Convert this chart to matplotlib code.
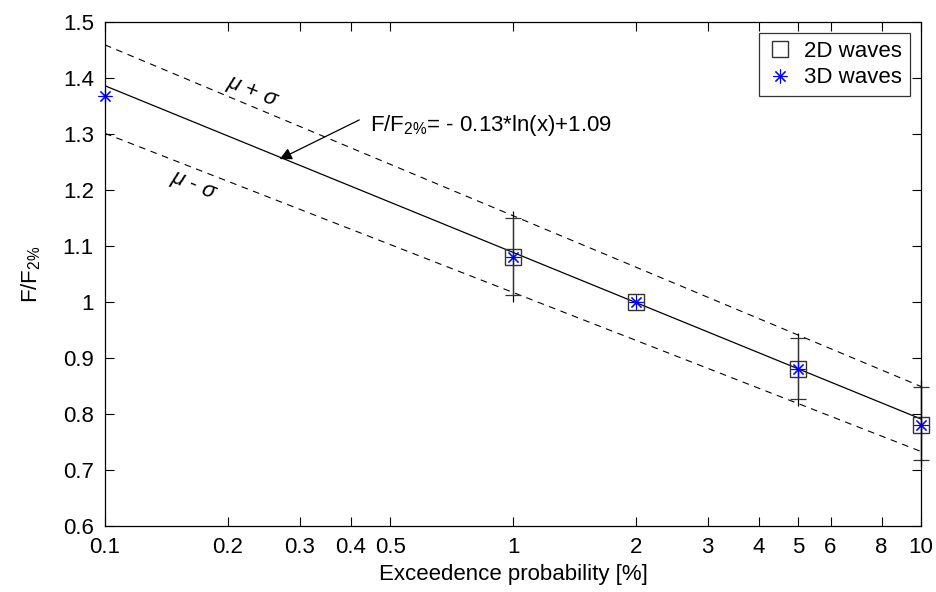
import numpy as np
import matplotlib.pyplot as plt

plt.rcParams['font.family'] = ['Liberation Sans', 'DejaVu Sans']
plt.rcParams['mathtext.fontset'] = 'custom'
plt.rcParams['mathtext.rm'] = 'Liberation Sans'
plt.rcParams['mathtext.it'] = 'Liberation Sans:italic'

# measured points
x2d = [1, 2, 5, 10]
y2d = [1.08, 1.0, 0.88, 0.78]
x3d = [0.1, 1, 2, 5, 10]
y3d = [1.368, 1.08, 1.0, 0.88, 0.78]

# error bars (two overlapping sets)
err_x = [1, 5, 10]
err_y = [1.08, 0.88, 0.78]
errA_lo = [1.0125, 0.827, 0.717]
errA_hi = [1.150, 0.935, 0.848]
errB_lo = [1.0, 0.814, 0.705]
errB_hi = [1.163, 0.945, 0.860]

# fitted line and +/- sigma bands (end points, straight on log-x)
fit_x = [0.1, 10]
fit_y = [1.386, 0.791]
upper_y = [1.459, 0.849]
lower_y = [1.301, 0.733]

xticks = [0.1, 0.2, 0.3, 0.4, 0.5, 1, 2, 3, 4, 5, 6, 8, 10]
xticklabels = ['0.1', '0.2', '0.3', '0.4', '0.5', '1', '2', '3', '4', '5', '6', '8', '10']
yticks = [0.6, 0.7, 0.8, 0.9, 1.0, 1.1, 1.2, 1.3, 1.4, 1.5]
yticklabels = ['0.6', '0.7', '0.8', '0.9', '1', '1.1', '1.2', '1.3', '1.4', '1.5']

fs = 16

fig = plt.figure(figsize=(9.37, 5.92), dpi=100)
ax = fig.add_axes([0.112, 0.1115, 0.871, 0.8515])

ax.plot(fit_x, fit_y, color='black', lw=0.9)
ax.plot(fit_x, upper_y, color='black', lw=0.8, ls=(0, (6, 5)))
ax.plot(fit_x, lower_y, color='black', lw=0.8, ls=(0, (6, 5)))

ey = np.array(err_y)
ax.errorbar(err_x, err_y, yerr=[ey - np.array(errB_lo), np.array(errB_hi) - ey],
            fmt='none', ecolor='black', elinewidth=0.9, capsize=0, clip_on=False)
ax.errorbar(err_x, err_y, yerr=[ey - np.array(errA_lo), np.array(errA_hi) - ey],
            fmt='none', ecolor='#333333', elinewidth=0.9, capsize=6, capthick=0.9,
            clip_on=False)

ax.plot(x2d, y2d, ls='none', marker='s', ms=11, mfc='none', mec='#333333', mew=1.0,
        clip_on=False, label='2D waves')
ax.plot(x3d, y3d, ls='none', marker=(8, 2, 0), ms=10, color='blue', mew=0.8,
        clip_on=False, label='3D waves')

ax.set_xscale('log')
ax.set_xlim(0.1, 10)
ax.set_ylim(0.6, 1.5)
ax.set_xticks(xticks)
ax.set_xticklabels(xticklabels)
ax.minorticks_off()
ax.set_yticks(yticks)
ax.set_yticklabels(yticklabels)
ax.tick_params(direction='in', length=6.5, width=0.8, top=True, right=True,
               labelsize=fs, pad=8)
for s in ax.spines.values():
    s.set_linewidth(0.9)

ax.set_xlabel('Exceedence probability [%]', fontsize=fs, labelpad=4)
ax.set_ylabel('F/F$_{2\\%}$', fontsize=fs, labelpad=14)

# text arrow pointing to the fitted line
ax.annotate('', xy=(0.268, 1.255), xytext=(0.42, 1.325),
            arrowprops=dict(arrowstyle='-|>', color='black', lw=0.9,
                            mutation_scale=18, shrinkA=0, shrinkB=0))
ax.text(0.445, 1.315, 'F/F$_{2\\%}$= - 0.13*ln(x)+1.09', fontsize=fs,
        ha='left', va='center')

ax.text(0.229, 1.373, '$\\mu$ + $\\sigma$', fontsize=fs, rotation=-22,
        ha='center', va='center', rotation_mode='anchor')
ax.text(0.165, 1.204, '$\\mu$ - $\\sigma$', fontsize=fs, rotation=-22,
        ha='center', va='center', rotation_mode='anchor')

leg = ax.legend(loc='upper right', fontsize=fs, frameon=True, fancybox=False,
                edgecolor='black', borderaxespad=0.5, handletextpad=0.5,
                borderpad=0.35, labelspacing=0.25, handlelength=1.2)
leg.get_frame().set_linewidth(0.9)

fig.savefig('out.png', dpi=100)
